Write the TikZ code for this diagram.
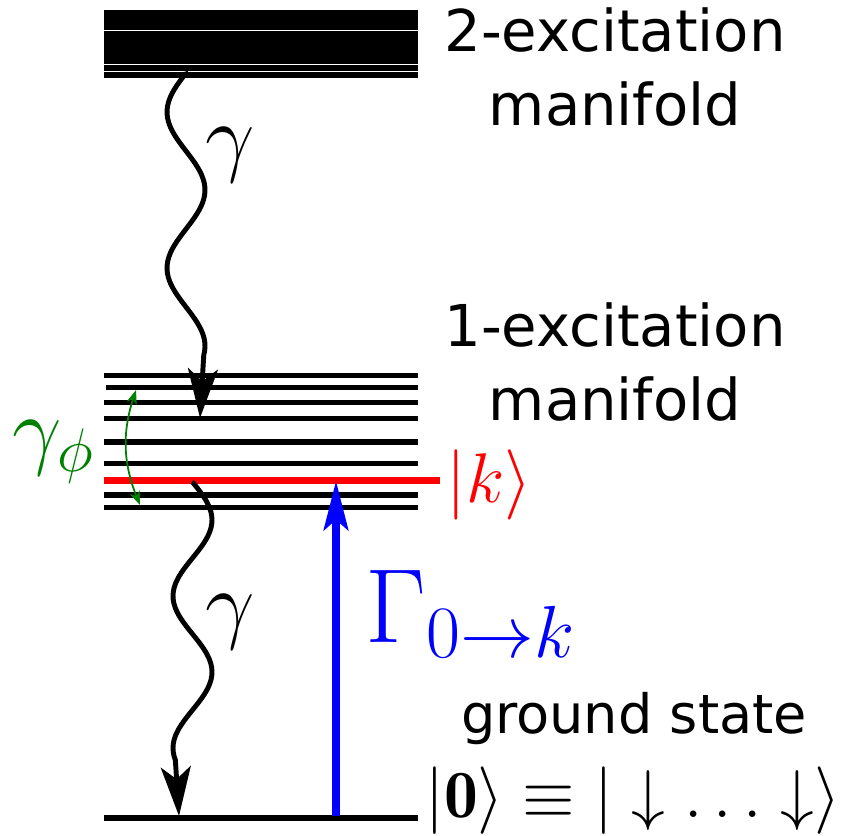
\RequirePackage{fix-cm}
\documentclass[tikz,border=0pt]{standalone}
\usepackage{amsmath}
\usepackage{fontspec}
\newfontfamily\labelfont{DejaVu Sans}
\usepackage{tikz}
\usetikzlibrary{arrows.meta,positioning,calc}

\begin{document}
\begin{tikzpicture}[
    x=0.01cm, y=-0.01cm,
    level/.style={line width=1.55pt},
    klevel/.style={line width=2pt, draw=red},
    decay/.style={line width=1.4pt, -{Stealth[length=14pt, width=8.5pt, inset=3.5pt]}},
    pump/.style={line width=2pt, draw=blue, -{Stealth[length=14pt, width=7pt, inset=3pt]}},
    dephase/.style={line width=0.5pt, draw=green!50!black, {Stealth[length=4pt, width=3pt]}-{Stealth[length=4pt, width=3pt]}},
    manifold/.style={font=\labelfont\fontsize{16.4}{21}\selectfont, align=center},
    rate/.style={font=\fontsize{25}{30}\selectfont}
]
    \useasboundingbox (0,0) rectangle (843,835);

    \foreach \a/\b in {10/29.5, 30.5/63.5, 64.5/71, 72/78}
        \fill (104,\a) rectangle (418,\b);
    \foreach \y in {375.7, 402.3, 418.7, 442, 463.7, 495, 507.3}
        \draw [level] (104,\y) -- (418,\y);
    \draw [level] (106,387.7) -- (418,387.7);
    \draw [klevel] (104,480.7) -- (440,480.7);
    \draw [level] (104,818) -- (418,818);

    \coordinate (w1s) at (185,72);
    \coordinate (w1e) at (200,418);
    \coordinate (w2s) at (192,482);
    \coordinate (w2e) at (179,816);
    \coordinate (pumpS) at (336,816);
    \coordinate (pumpE) at (336,481);
    \coordinate (dephA) at (136,390);
    \coordinate (dephB) at (140,505);

    \draw [decay] (w1s) -- plot [domain=73:355, samples=70, smooth, variable=\t] ({186-19*sin((\t-73)/156*360)}, \t) -- (w1e);
    \draw [decay] (w2s) -- plot [domain=483:760, samples=70, smooth, variable=\t] ({192.5+19.5*sin((\t-482)/152*360)}, \t) -- (w2e);
    \draw [pump] (pumpS) -- (pumpE);
    \draw [dephase] (dephA) to [bend right=20] (dephB);

    \node [manifold] (twoexc) at (615,67) {2-excitation\\manifold};
    \node [manifold] (oneexc) at (615,362) {1-excitation\\manifold};
    \node [manifold, font=\labelfont\fontsize{15.4}{20}\selectfont, anchor=base] (ground) at (634,733) {ground state};
    \node [anchor=base, font=\fontsize{19.2}{23}\selectfont] (gsket) at (633,817) {$|\mathbf{0}\rangle \equiv |\downarrow\ldots\downarrow\rangle$};
    \node [anchor=base west, inner sep=0pt, text=red, font=\fontsize{20}{24}\selectfont] (kket) at (446,502) {$|k\rangle$};
    \node [anchor=base west, inner sep=0pt, text=blue, font=\fontsize{30}{36}\selectfont] (pumprate) at (365,642) {$\Gamma_{0\to k}$};
    \node [rate] (g1) at (230,155) {$\gamma$};
    \node [rate] (g2) at (230,622) {$\gamma$};
    \node [rate, text=green!50!black] (gphi) at (54,452) {$\gamma_\phi$};
\end{tikzpicture}
\end{document}
